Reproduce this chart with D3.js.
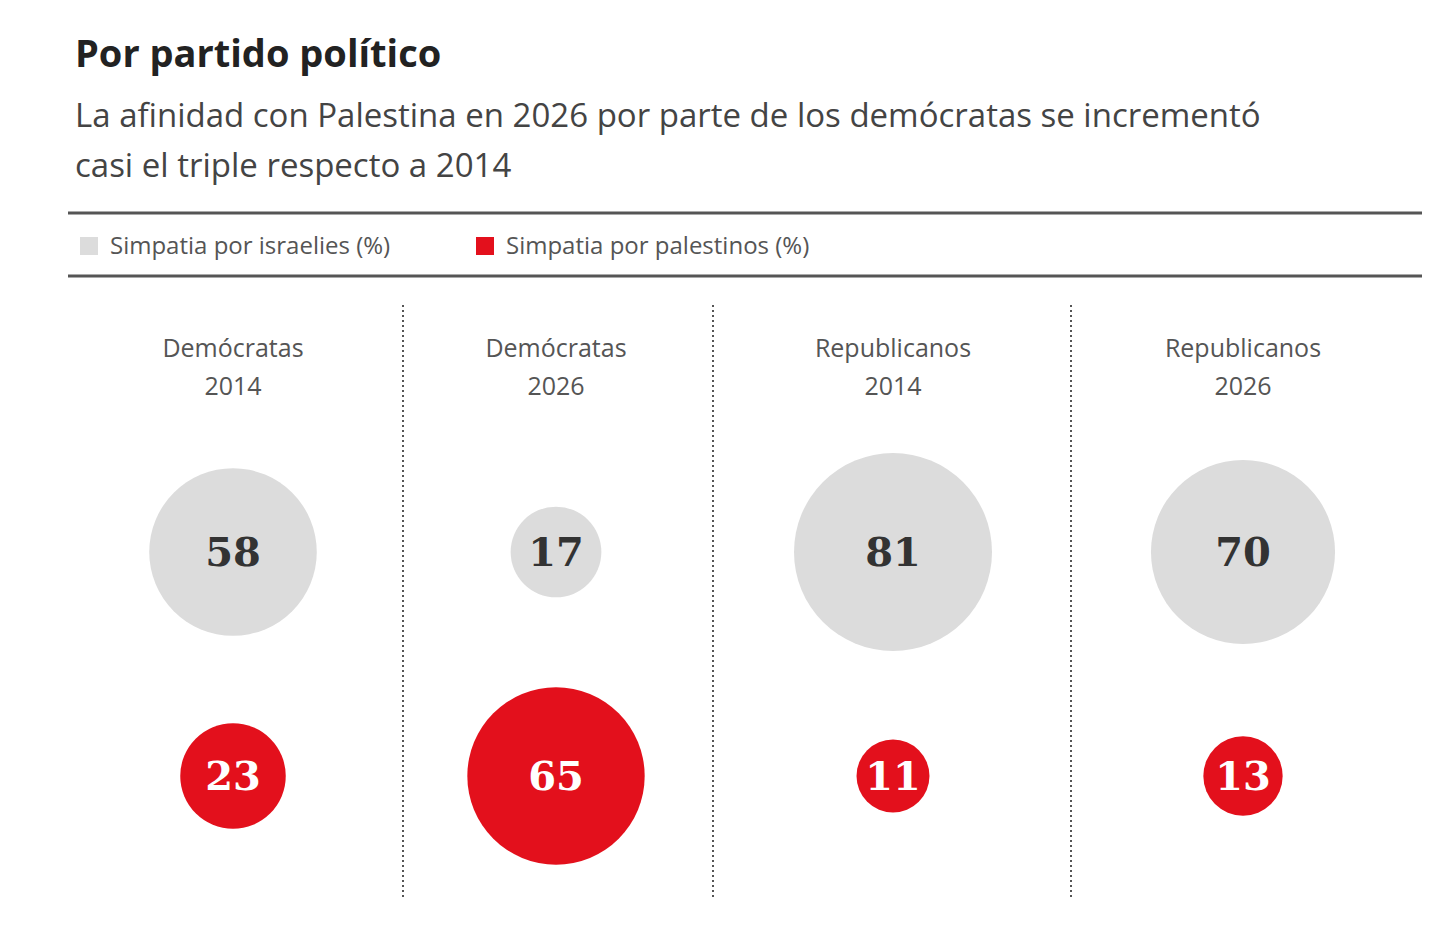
<!DOCTYPE html>
<html>
<head>
<meta charset="utf-8">
<script src="https://cdn.jsdelivr.net/npm/d3@7"></script>
<style>
  body { margin: 0; background: #fff; }
  svg text { font-family: "Open Sans", "Noto Sans", sans-serif; }
</style>
</head>
<body>
<svg id="chart" width="1456" height="937"></svg>
<script>
// data
var groups = ["Demócratas|2014", "Demócratas|2026", "Republicanos|2014", "Republicanos|2026"];
var israelies = [58, 17, 81, 70];
var palestinos = [23, 65, 11, 13];
var legendLabels = ["Simpatia por israelies (%)", "Simpatia por palestinos (%)"];

var svg = d3.select("#chart");
var grey = "#dcdcdc", red = "#e3101c", ink = "#333";

svg.append("text").attr("x", 75).attr("y", 67)
    .style("font-size", "38px").style("font-weight", 700).attr("fill", "#222")
    .text("Por partido político");
svg.append("text").attr("x", 75).attr("y", 127)
    .style("font-size", "33px").attr("fill", "#444")
    .text("La afinidad con Palestina en 2026 por parte de los demócratas se incrementó");
svg.append("text").attr("x", 75).attr("y", 177)
    .style("font-size", "33px").attr("fill", "#444")
    .text("casi el triple respecto a 2014");

svg.append("line").attr("x1", 68).attr("x2", 1422).attr("y1", 213).attr("y2", 213)
    .attr("stroke", "#555").attr("stroke-width", 3);
svg.append("line").attr("x1", 68).attr("x2", 1422).attr("y1", 276).attr("y2", 276)
    .attr("stroke", "#555").attr("stroke-width", 3);

var legend = [{x: 80, c: grey}, {x: 476, c: red}];
legend.forEach(function (l, i) {
    svg.append("rect").attr("x", l.x).attr("y", 237).attr("width", 18).attr("height", 18).attr("fill", l.c);
    svg.append("text").attr("x", l.x + 30).attr("y", 254)
        .style("font-size", "24px").attr("fill", "#555").text(legendLabels[i]);
});

// columns
var x = d3.scaleOrdinal().domain(groups).range([233, 556, 893, 1243]);
var r = d3.scaleSqrt().domain([0, 100]).range([0, 110]);
var seps = [403, 713, 1071];

svg.selectAll(".sep").data(seps).enter().append("line")
    .attr("x1", function (d) { return d; }).attr("x2", function (d) { return d; })
    .attr("y1", 305).attr("y2", 900)
    .attr("stroke", "#555").attr("stroke-width", 2).attr("stroke-dasharray", "2,3");

groups.forEach(function (g, i) {
    var parts = g.split("|");
    var cx = x(g);
    svg.append("text").attr("x", cx).attr("y", 357).attr("text-anchor", "middle")
        .style("font-size", "25px").attr("fill", "#555").text(parts[0]);
    svg.append("text").attr("x", cx).attr("y", 395).attr("text-anchor", "middle")
        .style("font-size", "25px").attr("fill", "#555").text(parts[1]);

    svg.append("circle").attr("cx", cx).attr("cy", 552).attr("r", r(israelies[i])).attr("fill", grey);
    svg.append("text").attr("x", cx).attr("y", 566).attr("text-anchor", "middle")
        .style("font-family", "'DejaVu Serif', 'Liberation Serif', serif")
        .style("font-size", "40px").style("font-weight", 700).attr("fill", ink)
        .text(israelies[i]);

    svg.append("circle").attr("cx", cx).attr("cy", 776).attr("r", r(palestinos[i])).attr("fill", red);
    svg.append("text").attr("x", cx).attr("y", 790).attr("text-anchor", "middle")
        .style("font-family", "'DejaVu Serif', 'Liberation Serif', serif")
        .style("font-size", "40px").style("font-weight", 700).attr("fill", "#fff")
        .text(palestinos[i]);
});
</script>
</body>
</html>
